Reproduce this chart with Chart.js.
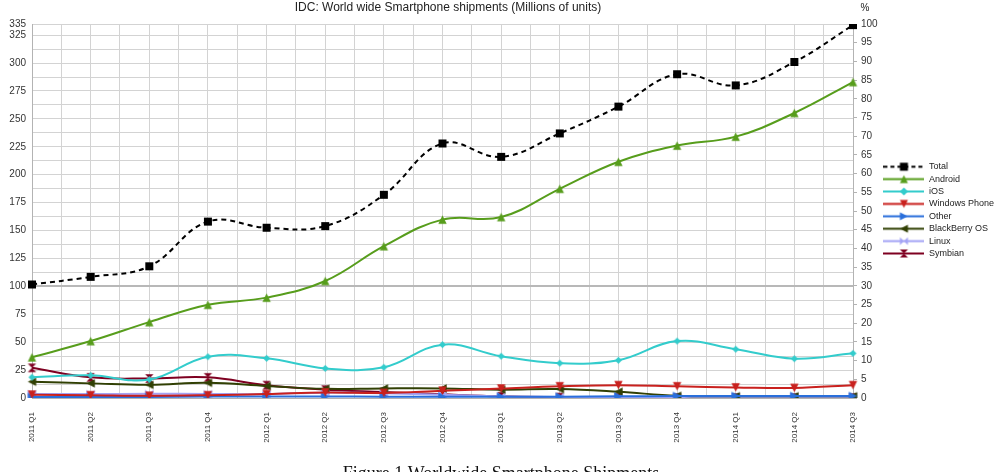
<!DOCTYPE html>
<html>
<head>
<meta charset="utf-8">
<script src="https://cdn.jsdelivr.net/npm/chart.js@4.4.0/dist/chart.umd.min.js"></script>
<style>
  body { margin: 0; background: #fff; }
  canvas { display: block; }
</style>
</head>
<body>
<canvas id="shipChart" width="997" height="472"></canvas>
<script>
// Quarters on the x axis
const quarters = ['2011 Q1', '2011 Q2', '2011 Q3', '2011 Q4',
  '2012 Q1', '2012 Q2', '2012 Q3', '2012 Q4',
  '2013 Q1', '2013 Q2', '2013 Q3', '2013 Q4',
  '2014 Q1', '2014 Q2', '2014 Q3'];

// Shipments, millions of units
const total = [101.7, 108.5, 118, 158, 152.5, 154, 182, 228, 216, 237, 261, 290, 280, 301, 334];
const android = [36.5, 51, 68, 83.5, 89.9, 104.8, 136, 159.8, 162.1, 187.4, 211.6, 226.1, 234.1, 255.3, 283];
const ios = [18.6, 20.3, 16.5, 37, 35.5, 26.5, 27.5, 47.8, 37.4, 31.2, 33.8, 51, 43.7, 35.2, 40];
const windowsPhone = [3, 2.5, 2, 2.5, 3.5, 5, 4.5, 6.5, 8.5, 10.5, 11.5, 10.5, 9.5, 9, 11.5];
const other = [1, 1, 1, 1.3, 1.3, 1.3, 1.2, 1.2, 1.2, 1.2, 1.5, 1.8, 1.8, 1.8, 1.8];
const blackberry = [14.6, 13.1, 11.8, 13.6, 10.8, 8.2, 8.6, 8.6, 7.5, 8, 5.6, 2, 1.6, 1.6, 1.6];
const linux = [3.5, 3.5, 3.8, 3.6, 3.5, 4.8, 4.2, 3, 1.5, 1, 0.8, 0.8, 0.8, 0.8, 0.8];
const symbian = [27, 18.5, 17.5, 18.5, 11.5, 7.5, 5.4, 3.3, 1.5, 0.8, 0.5, 0.3, 0.3, 0.3, 0.3];

const seriesNames = ['Total', 'Android', 'iOS', 'Windows Phone', 'Other', 'BlackBerry OS', 'Linux', 'Symbian'];
const seriesValues = [total, android, ios, windowsPhone, other, blackberry, linux, symbian];
const seriesColors = ['#000000', '#579d1c', '#33cccc', '#c9211e', '#2a6fdb', '#314004', '#a3a3f5', '#7e0021'];
const seriesShapes = ['square', 'up', 'diamond', 'down', 'right', 'left', 'bowtie', 'hourglass'];

// Left axis: gridline every 12.5, label every 25, plus 335 at the top
const leftTicks = [];
for (let v = 0; v <= 325; v += 12.5) leftTicks.push(v);
leftTicks.push(335);

function drawShape(ctx, shape, cx, cy, r) {
  ctx.beginPath();
  switch (shape) {
    case 'square':
      ctx.rect(cx - r, cy - r, 2 * r, 2 * r); break;
    case 'up':
      ctx.moveTo(cx, cy - r); ctx.lineTo(cx + r, cy + r); ctx.lineTo(cx - r, cy + r); break;
    case 'down':
      ctx.moveTo(cx, cy + r); ctx.lineTo(cx + r, cy - r); ctx.lineTo(cx - r, cy - r); break;
    case 'right':
      ctx.moveTo(cx + r, cy); ctx.lineTo(cx - r, cy - r); ctx.lineTo(cx - r, cy + r); break;
    case 'left':
      ctx.moveTo(cx - r, cy); ctx.lineTo(cx + r, cy - r); ctx.lineTo(cx + r, cy + r); break;
    case 'diamond':
      ctx.moveTo(cx, cy - r); ctx.lineTo(cx + r, cy); ctx.lineTo(cx, cy + r); ctx.lineTo(cx - r, cy); break;
    case 'bowtie':
      ctx.moveTo(cx - r, cy - r); ctx.lineTo(cx, cy); ctx.lineTo(cx - r, cy + r); ctx.closePath();
      ctx.moveTo(cx + r, cy - r); ctx.lineTo(cx, cy); ctx.lineTo(cx + r, cy + r); break;
    case 'hourglass':
      ctx.moveTo(cx - r, cy - r); ctx.lineTo(cx + r, cy - r); ctx.lineTo(cx, cy); ctx.closePath();
      ctx.moveTo(cx - r, cy + r); ctx.lineTo(cx + r, cy + r); ctx.lineTo(cx, cy); break;
  }
  ctx.closePath();
  ctx.fill();
}

function makeMarker(shape, color, r) {
  const c = document.createElement('canvas');
  c.width = c.height = Math.ceil(2 * r + 2);
  const g = c.getContext('2d');
  g.fillStyle = color;
  drawShape(g, shape, c.width / 2, c.height / 2, r);
  return c;
}

function makeSwatch(shape, color, dashed) {
  const c = document.createElement('canvas');
  c.width = 41; c.height = 11;
  const g = c.getContext('2d');
  g.strokeStyle = color;
  g.lineWidth = 2;
  if (dashed) g.setLineDash([4, 3]);
  g.beginPath(); g.moveTo(0, 5.5); g.lineTo(41, 5.5); g.stroke();
  g.fillStyle = color;
  drawShape(g, shape, 20.5, 5.5, 4);
  return c;
}

const swatches = seriesNames.map((n, i) => makeSwatch(seriesShapes[i], seriesColors[i], i === 0));

const datasets = seriesNames.map((name, i) => ({
  label: name,
  data: seriesValues[i],
  yAxisID: 'y',
  borderColor: seriesColors[i],
  backgroundColor: seriesColors[i],
  borderWidth: 2,
  borderDash: i === 0 ? [5, 4] : [],
  tension: 0.4,
  pointStyle: makeMarker(seriesShapes[i], seriesColors[i], i === 0 ? 4 : (i === 2 ? 3.5 : 4.2)),
  pointRadius: 4
}));

// Title, % label and figure caption
const extraText = {
  id: 'extraText',
  afterDraw(chart) {
    const ctx = chart.ctx;
    ctx.save();
    ctx.fillStyle = '#222';
    ctx.textAlign = 'center';
    ctx.textBaseline = 'middle';
    ctx.font = '12px "Liberation Sans"';
    ctx.fillText('IDC: World wide Smartphone shipments (Millions of units)', 448, 8);
    ctx.font = '10px "Liberation Sans"';
    ctx.fillText('%', chart.scales.y1.left + 12, 8);
    ctx.font = '18px "Liberation Serif"';
    ctx.textBaseline = 'alphabetic';
    ctx.fillStyle = '#111';
    ctx.fillText('Figure 1 Worldwide Smartphone Shipments', 501, 479);
    ctx.restore();
  }
};

Chart.defaults.font.family = '"Liberation Sans", Arial, sans-serif';
Chart.defaults.color = '#333';

new Chart(document.getElementById('shipChart').getContext('2d'), {
  type: 'line',
  data: { labels: quarters, datasets: datasets },
  options: {
    responsive: false,
    animation: false,
    layout: { padding: { top: 24, left: 0, right: 0, bottom: 0 } },
    plugins: {
      title: { display: false },
      tooltip: { enabled: false },
      legend: {
        position: 'right',
        align: 'start',
        maxWidth: 117,
        // empty title only used to push the items down to mid height
        title: { display: true, text: '', font: { size: 9 }, padding: { top: 124, bottom: 0 } },
        labels: {
          usePointStyle: true,
          pointStyleWidth: 41,
          padding: 3.4,
          color: '#222',
          font: { size: 9 },
          generateLabels(chart) {
            const items = Chart.defaults.plugins.legend.labels.generateLabels(chart);
            items.forEach((it, i) => { it.pointStyle = swatches[i]; });
            return items;
          }
        }
      }
    },
    scales: {
      x: {
        type: 'category',
        offset: false,
        grid: { display: false },
        border: { color: '#b3b3b3' },
        ticks: { minRotation: 90, maxRotation: 90, autoSkip: false, padding: 6, font: { size: 8 } },
        afterFit(scale) { scale.height = 74; }
      },
      xg: {
        type: 'linear',
        position: 'top',
        min: 0,
        max: 14,
        grid: { color: '#d3d3d3', drawTicks: false },
        border: { display: false },
        ticks: { display: false, stepSize: 0.5 },
        afterFit(scale) { scale.height = 0; }
      },
      y: {
        position: 'left',
        min: 0,
        max: 335,
        afterBuildTicks(scale) { scale.ticks = leftTicks.map(v => ({ value: v })); },
        grid: {
          drawTicks: false,
          color: ctx => (ctx.tick && ctx.tick.value === 100) ? '#b8b8b8' : '#d3d3d3',
          lineWidth: ctx => (ctx.tick && ctx.tick.value === 100) ? 2 : 1
        },
        border: { color: '#b3b3b3' },
        ticks: {
          autoSkip: false,
          padding: 6,
          font: { size: 10 },
          callback: v => (v % 25 === 0 || v === 335) ? v : ''
        },
        afterFit(scale) { scale.width = 32; }
      },
      y1: {
        position: 'right',
        min: 0,
        max: 100,
        grid: { drawOnChartArea: false, tickLength: 4, color: '#b3b3b3' },
        border: { color: '#b3b3b3' },
        ticks: { stepSize: 5, padding: 4, font: { size: 10 } },
        afterFit(scale) { scale.width = 27; }
      }
    }
  },
  plugins: [extraText]
});
</script>
</body>
</html>
